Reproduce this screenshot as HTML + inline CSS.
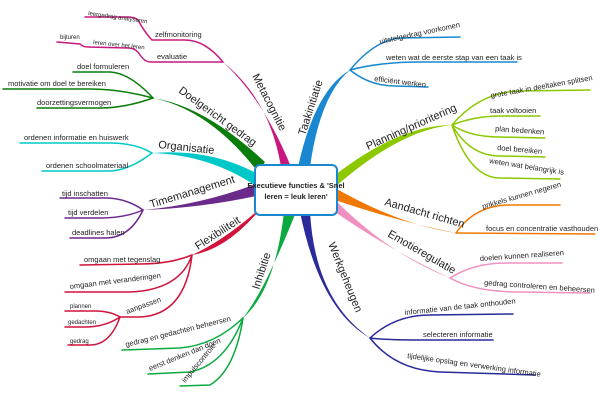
<!DOCTYPE html>
<html><head><meta charset="utf-8"><style>
html,body{margin:0;padding:0;background:#fff;width:600px;height:400px;overflow:hidden}
svg{display:block}
text{font-family:"Liberation Sans",sans-serif;fill:#222}
.s{font-size:7.5px}
.xs{font-size:6px}
.m{font-size:11px}
</style></head><body>
<svg width="600" height="400" viewBox="0 0 600 400" xmlns="http://www.w3.org/2000/svg">
<g fill="none" stroke-linecap="round">
<g stroke="#c8187f" stroke-width="1.5">
<path d="M223,62 L150,62 Q145,62 140,55 Q136,48 128,48 L88,47 Q83,47 80,44 L57,42"/>
<path d="M223,62 Q205,40 185,40 L152,40 Q145,33 138,20 Q135,17 128,17 L85,17"/>
</g>
<g stroke="#0a7d0a" stroke-width="1.5">
<path d="M153,98 Q130,73 110,72 L73,72"/>
<path d="M153,98 Q120,89 90,89 L3,89"/>
<path d="M153,98 Q125,108 100,108 L37,108"/>
</g>
<g stroke="#00c8c8" stroke-width="1.5">
<path d="M152,153 Q135,143 110,143 L20,143"/>
<path d="M152,153 Q130,170 110,171 L42,171"/>
</g>
<g stroke="#6b2a8a" stroke-width="1.5">
<path d="M143,210 Q125,197 100,198 L60,198"/>
<path d="M143,210 Q125,218 100,218 L65,218"/>
<path d="M143,210 Q130,238 105,238 L70,238"/>
</g>
<g stroke="#d0143c" stroke-width="1.5">
<path d="M192,255 Q170,264 140,264 L80,265"/>
<path d="M192,255 Q180,290 130,292 L65,292"/>
<path d="M192,255 Q185,315 140,317 L120,317"/>
<path d="M120,317 Q110,311 95,311 L65,311"/>
<path d="M120,317 Q105,327 85,327 L65,327"/>
<path d="M120,317 Q110,345 90,345 L68,345"/>
</g>
<g stroke="#0aaa40" stroke-width="1.5">
<path d="M243,318 Q215,345 180,348 L122,350"/>
<path d="M243,318 Q225,365 190,372 L148,374"/>
<path d="M243,318 Q235,370 210,385 L180,386"/>
</g>
<g stroke="#2a2a9a" stroke-width="1.5">
<path d="M370,338 Q395,315 430,315 L513,314"/>
<path d="M370,338 Q385,340 420,340 L493,340"/>
<path d="M370,338 Q395,370 440,372 L535,375"/>
</g>
<g stroke="#f090c0" stroke-width="1.5">
<path d="M450,278 Q475,262 510,263 L562,263"/>
<path d="M450,278 Q475,292 520,292 L590,293"/>
</g>
<g stroke="#f07800" stroke-width="1.5">
<path d="M456,233 Q475,205 510,205 L560,205"/>
<path d="M456,233 L595,234"/>
</g>
<g stroke="#8cc800" stroke-width="1.5">
<path d="M452,125 Q480,92 520,91 L590,90"/>
<path d="M452,125 Q475,116 500,116 L540,116"/>
<path d="M452,125 Q470,137 500,137 L545,138"/>
<path d="M452,125 Q470,156 500,156 L545,157"/>
<path d="M452,125 Q470,178 500,178 L560,179"/>
</g>
<g stroke="#1a88d0" stroke-width="1.5">
<path d="M350,70 Q375,40 400,38 L460,37"/>
<path d="M350,70 Q380,62 420,62 L517,62"/>
<path d="M350,70 Q370,86 395,86 L428,87"/>
</g>
</g>
<path d="M281,167 Q270,100 223,62 Q264,100 291,167Z" fill="#c8187f"/>
<path d="M258,172 Q210,110 153,98 Q205,106 265,162Z" fill="#0a7d0a"/>
<path d="M256,186 Q210,155 152,153 Q210,148 258,174Z" fill="#00c8c8"/>
<path d="M256,196 Q200,208 143,210 Q200,205 256,184Z" fill="#6b2a8a"/>
<path d="M258,212 Q225,250 192,255 Q225,240 264,205Z" fill="#d0143c"/>
<path d="M284,212 Q275,290 243,318 Q265,290 296,212Z" fill="#0aaa40"/>
<path d="M300,212 Q320,310 370,338 Q315,300 310,212Z" fill="#2a2a9a"/>
<path d="M335,200 Q390,255 450,278 Q390,250 335,212Z" fill="#f090c0"/>
<path d="M335,188 Q400,225 456,233 Q400,222 335,200Z" fill="#f07800"/>
<path d="M335,175 Q400,125 452,125 Q400,130 335,187Z" fill="#8cc800"/>
<path d="M298,167 Q315,90 350,70 Q320,95 310,167Z" fill="#1a88d0"/>
<rect x="255" y="165" width="82" height="50" rx="5" fill="#fff" stroke="#1a88d0" stroke-width="2"/>
<text x="296" y="188" text-anchor="middle" style="font-size:7.5px;font-weight:bold" fill="#000">Executieve functies &amp; 'Snel</text>
<text x="296" y="199" text-anchor="middle" style="font-size:7.5px;font-weight:bold" fill="#000">leren = leuk leren'</text>
<text class="m" transform="translate(252,76) rotate(63)">Metacognitie</text>
<text class="m" transform="translate(178,92) rotate(36)">Doelgericht gedrag</text>
<text class="m" transform="translate(158,148) rotate(6)">Organisatie</text>
<text class="m" transform="translate(151,208) rotate(-17)">Timemanagement</text>
<text class="m" transform="translate(198,250) rotate(-33)">Flexibiliteit</text>
<text class="m" transform="translate(259,290) rotate(-72)">Inhibitie</text>
<text class="m" transform="translate(328,244) rotate(68)">Werkgeheugen</text>
<text class="m" transform="translate(387,236) rotate(30)">Emotieregulatie</text>
<text class="m" transform="translate(384,205) rotate(16)">Aandacht richten</text>
<text class="m" transform="translate(368,150) rotate(-24)">Planning/prioritering</text>
<text class="m" transform="translate(305,136) rotate(-72)">Taakinitiatie</text>
<text class="s" x="155" y="37">zelfmonitoring</text>
<text class="xs" transform="translate(88,15) rotate(8)">leergedrag analyseren</text>
<text class="s" x="157" y="59">evaluatie</text>
<text class="xs" transform="translate(93,44) rotate(6)">leren over het leren</text>
<text class="xs" x="60" y="39">bijturen</text>
<text class="s" x="77" y="69">doel formuleren</text>
<text class="s" x="8" y="86">motivatie om doel te bereiken</text>
<text class="s" x="37" y="105">doorzettingsvermogen</text>
<text class="s" x="24" y="140">ordenen informatie en huiswerk</text>
<text class="s" x="46" y="168">ordenen schoolmateriaal</text>
<text class="s" x="62" y="196">tijd inschatten</text>
<text class="s" x="68" y="215">tijd verdelen</text>
<text class="s" x="72" y="235">deadlines halen</text>
<text class="s" x="84" y="262">omgaan met tegenslag</text>
<text class="s" transform="translate(70,289) rotate(-7)">omgaan met veranderingen</text>
<text class="s" transform="translate(127,314) rotate(-20)">aanpassen</text>
<text class="xs" x="70" y="308">plannen</text>
<text class="xs" x="68" y="324">gedachten</text>
<text class="xs" x="70" y="343">gedrag</text>
<text class="s" transform="translate(126,347) rotate(-14)">gedrag en gedachten beheersen</text>
<text class="s" transform="translate(150,371) rotate(-22)">eerst denken dan doen</text>
<text class="s" transform="translate(185,383) rotate(-50)">impulscontrole</text>
<text class="s" transform="translate(405,315) rotate(-6)">informatie van de taak onthouden</text>
<text class="s" x="423" y="337">selecteren informatie</text>
<text class="s" transform="translate(407,358) rotate(8)">tijdelijke opslag en verwerking informatie</text>
<text class="s" transform="translate(480,261) rotate(-4)">doelen kunnen realiseren</text>
<text class="s" transform="translate(484,285) rotate(4)">gedrag controleren en beheersen</text>
<text class="s" transform="translate(483,209) rotate(-16)">prikkels kunnen negeren</text>
<text class="s" x="486" y="231">focus en concentratie vasthouden</text>
<text class="s" transform="translate(491,98) rotate(-10)">grote taak in deeltaken splitsen</text>
<text class="s" x="490" y="113">taak voltooien</text>
<text class="s" transform="translate(495,131) rotate(4)">plan bedenken</text>
<text class="s" transform="translate(497,150) rotate(5)">doel bereiken</text>
<text class="s" transform="translate(489,163) rotate(9)">weten wat belangrijk is</text>
<text class="s" transform="translate(380,44) rotate(-12)">uitstelgedrag voorkomen</text>
<text class="s" x="386" y="60">weten wat de eerste stap van een taak is</text>
<text class="s" transform="translate(374,81) rotate(7)">efficiënt werken</text>
</svg>
</body></html>
